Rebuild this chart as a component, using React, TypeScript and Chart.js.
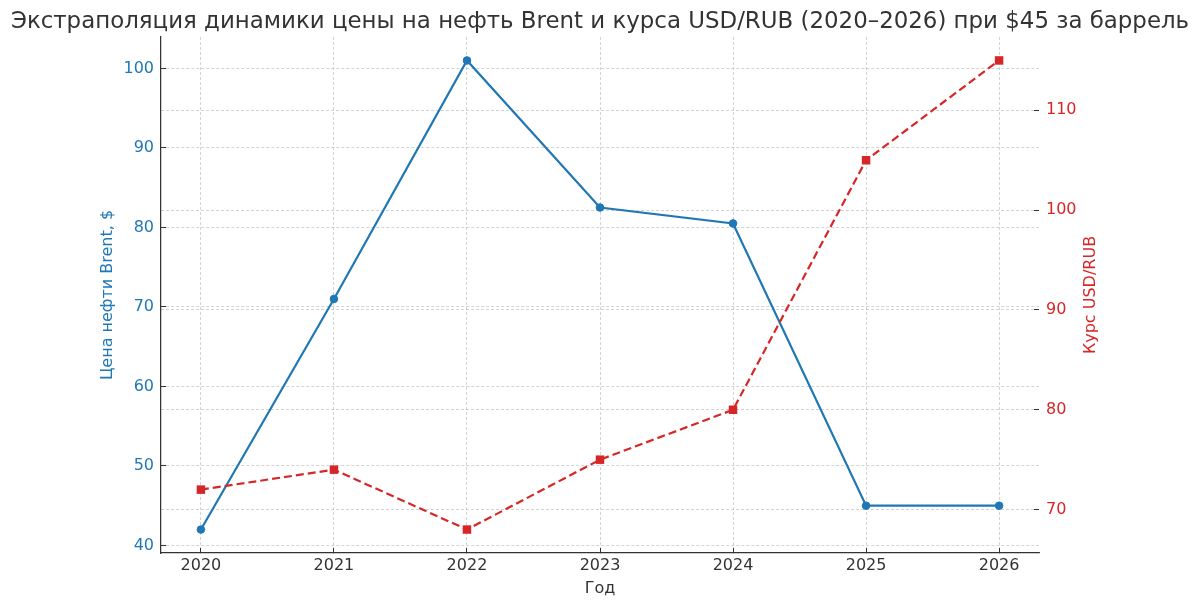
import React, { useEffect, useRef } from "react";
import { Chart, registerables } from "chart.js";

Chart.register(...registerables);

const years = [2020, 2021, 2022, 2023, 2024, 2025, 2026];
const brentPrice = [42, 71, 101, 82.5, 80.5, 45, 45];
const usdRub = [72, 74, 68, 75, 80, 105, 115];
const brentTicks = [40, 50, 60, 70, 80, 90, 100];
const rubTicks = [70, 80, 90, 100, 110];

const chartTitle =
  "Экстраполяция динамики цены на нефть Brent и курса USD/RUB (2020–2026) при $45 за баррель";
const xTitle = "Год";
const yLeftTitle = "Цена нефти Brent, $";
const yRightTitle = "Курс USD/RUB";

const BLUE = "#1f77b4";
const RED = "#d62728";
const TEXT = "#333333";
const GRID = "rgba(170,170,170,0.65)";
const FONT = "'DejaVu Sans', sans-serif";

function padRange(vals: number[], frac = 0.05): [number, number] {
  const lo = Math.min(...vals);
  const hi = Math.max(...vals);
  const d = (hi - lo) * frac;
  return [lo - d, hi + d];
}

// Right axis title rotated like matplotlib (reads bottom-to-top)
const rightTitlePlugin = {
  id: "rightTitle",
  afterDraw(chart: any) {
    const s = chart.scales.y1;
    if (!s) return;
    const ctx = chart.ctx;
    const area = chart.chartArea;
    ctx.save();
    ctx.translate(s.right - 109, (area.top + area.bottom) / 2);
    ctx.rotate(-Math.PI / 2);
    ctx.fillStyle = RED;
    ctx.font = `16px ${FONT}`;
    ctx.textAlign = "center";
    ctx.textBaseline = "middle";
    ctx.fillText(yRightTitle, 0, 0);
    ctx.restore();
  },
};

export default function App() {
  const ref = useRef<HTMLCanvasElement | null>(null);

  useEffect(() => {
    document.body.style.margin = "0";
    const canvas = ref.current;
    if (!canvas) return;
    const [xMin, xMax] = padRange(years);
    const [yMin, yMax] = padRange(brentPrice);
    const [y1Min, y1Max] = padRange(usdRub);

    const gridCommon = {
      color: GRID,
      lineWidth: 0.8,
      drawTicks: true,
      tickLength: -5,
      tickColor: TEXT,
      tickWidth: 1,
      tickBorderDash: [] as number[],
    };

    const chart = new Chart(canvas, {
      type: "line",
      data: {
        datasets: [
          {
            label: "Brent",
            data: years.map((x, i) => ({ x, y: brentPrice[i] })),
            yAxisID: "y",
            borderColor: BLUE,
            backgroundColor: BLUE,
            borderWidth: 2.2,
            pointStyle: "circle",
            pointRadius: 3.8,
            pointBorderWidth: 1,
            pointBorderColor: BLUE,
            pointBackgroundColor: BLUE,
            tension: 0,
            order: 1,
          },
          {
            label: "USD/RUB",
            data: years.map((x, i) => ({ x, y: usdRub[i] })),
            yAxisID: "y1",
            borderColor: RED,
            backgroundColor: RED,
            borderWidth: 2.2,
            borderDash: [8, 4],
            pointStyle: "rect",
            pointRadius: 6,
            pointBorderWidth: 0,
            pointBackgroundColor: RED,
            tension: 0,
            order: 0,
          },
        ],
      },
      options: {
        responsive: false,
        animation: false,
        devicePixelRatio: 1,
        layout: { padding: { left: 0, right: 0, top: 0, bottom: 0 } },
        plugins: {
          legend: { display: false },
          tooltip: { enabled: false },
          title: {
            display: true,
            text: chartTitle,
            color: TEXT,
            font: { family: FONT, size: 22.9, weight: "normal" },
            padding: { top: 8.5, bottom: 1 },
          },
        },
        scales: {
          x: {
            type: "linear",
            position: "bottom",
            min: xMin,
            max: xMax,
            afterBuildTicks: (s: any) => {
              s.ticks = years.map((v) => ({ value: v }));
            },
            afterFit: (s: any) => {
              s.height = 55;
            },
            ticks: {
              color: TEXT,
              font: { family: FONT, size: 16 },
              padding: 8,
              maxRotation: 0,
              autoSkip: false,
              callback: (v: any) => String(v),
            },
            grid: gridCommon,
            border: { display: true, color: TEXT, width: 1.25, dash: [3, 2] },
            title: {
              display: true,
              text: xTitle,
              color: TEXT,
              font: { family: FONT, size: 16 },
              padding: { top: 0, bottom: 10 },
            },
          },
          y: {
            type: "linear",
            position: "left",
            min: yMin,
            max: yMax,
            afterBuildTicks: (s: any) => {
              s.ticks = brentTicks.map((v) => ({ value: v }));
            },
            afterFit: (s: any) => {
              s.width = 161;
            },
            ticks: {
              color: BLUE,
              font: { family: FONT, size: 16 },
              padding: 12,
              callback: (v: any) => String(v),
            },
            grid: gridCommon,
            border: { display: true, color: TEXT, width: 1.25, dash: [3, 2] },
            title: {
              display: true,
              text: yLeftTitle,
              color: BLUE,
              font: { family: FONT, size: 16 },
              padding: { top: 98.4, bottom: 0 },
            },
          },
          y1: {
            type: "linear",
            position: "right",
            min: y1Min,
            max: y1Max,
            afterBuildTicks: (s: any) => {
              s.ticks = rubTicks.map((v) => ({ value: v }));
            },
            afterFit: (s: any) => {
              s.width = 161;
            },
            ticks: {
              color: RED,
              font: { family: FONT, size: 16 },
              padding: 12,
              callback: (v: any) => String(v),
            },
            grid: gridCommon,
            border: { display: false, dash: [3, 2] },
            title: { display: false },
          },
        },
      } as any,
      plugins: [rightTitlePlugin],
    });
    return () => chart.destroy();
  }, []);

  return (
    <div style={{ width: 1200, height: 608, background: "#fff" }}>
      <canvas ref={ref} width={1200} height={608} style={{ display: "block" }} />
    </div>
  );
}
